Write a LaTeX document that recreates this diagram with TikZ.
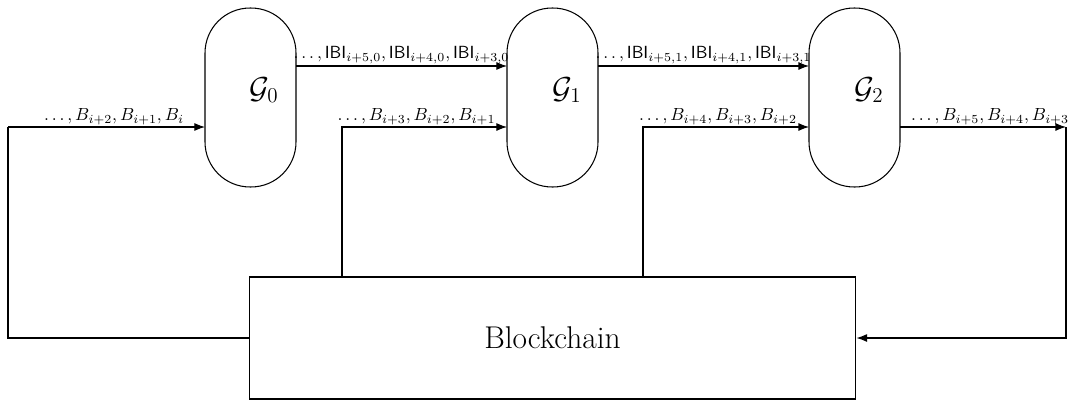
\documentclass[tikz,border=0pt]{standalone}
\usetikzlibrary{arrows.meta}
\begin{document}
\begin{tikzpicture}[x=0.02cm,y=-0.02cm,line width=0.6pt,
  gbox/.style={draw,rounded corners=0.9cm,minimum width=1.82cm,minimum height=3.58cm,inner sep=0pt},
  chain/.style={draw,minimum width=12.14cm,minimum height=2.44cm,inner sep=0pt,font=\fontsize{17.9}{21}\selectfont},
  glbl/.style={font=\LARGE,inner sep=0pt},
  arr/.style={-{Latex[length=6pt,width=4.5pt]}},
  lbl/.style={inner sep=1pt,anchor=south}]
\useasboundingbox (0,0) rectangle (1070,402);
\node[gbox] (g0) at (250.5,97.5) {};
\node[gbox] (g1) at (552.5,97.5) {};
\node[gbox] (g2) at (854.5,97.5) {};
\node[glbl] (l0) at (264,90) {$\mathcal{G}_0$};
\node[glbl] (l1) at (567,90) {$\mathcal{G}_1$};
\node[glbl] (l2) at (869,90) {$\mathcal{G}_2$};
\node[chain] (bc) at (552.5,338) {Blockchain};
% top connectors
\coordinate (t0) at (296,66);
\coordinate (t1) at (507,66);
\coordinate (t2) at (598,66);
\coordinate (t3) at (809,66);
\draw[arr] (t0) -- (t1);
\draw[arr] (t2) -- (t3);
\node[lbl] (il0) at (401.5,66) {$\dots,\mathsf{IBI}_{i+5,0},\mathsf{IBI}_{i+4,0},\mathsf{IBI}_{i+3,0}$};
\node[lbl] (il1) at (703.5,66) {$\dots,\mathsf{IBI}_{i+5,1},\mathsf{IBI}_{i+4,1},\mathsf{IBI}_{i+3,1}$};
% input connectors
\coordinate (a0) at (8,127);
\coordinate (a0b) at (8,338);
\coordinate (g0in) at (205,127);
\draw (bc.west) -- (a0b) -- (a0);
\draw[arr] (a0) -- (g0in);
\node[lbl] (bl0) at (114,127) {$\dots,B_{i+2},B_{i+1},B_i$};
\coordinate (b1) at (342,277);
\coordinate (b1t) at (342,127);
\coordinate (g1in) at (507,127);
\draw[arr] (b1) -- (b1t) -- (g1in);
\node[lbl] (bl1) at (416.5,127) {$\dots,B_{i+3},B_{i+2},B_{i+1}$};
\coordinate (b2) at (643,277);
\coordinate (b2t) at (643,127);
\coordinate (g2in) at (809,127);
\draw[arr] (b2) -- (b2t) -- (g2in);
\node[lbl] (bl2) at (718,127) {$\dots,B_{i+4},B_{i+3},B_{i+2}$};
% output
\coordinate (g2out) at (900,127);
\coordinate (o1) at (1066,127);
\coordinate (o2) at (1066,338);
\draw[arr] (g2out) -- (o1);
\node[lbl] (bl3) at (990,127) {$\dots,B_{i+5},B_{i+4},B_{i+3}$};
\draw[arr] (o1) -- (o2) -- (bc.east);
\end{tikzpicture}
\end{document}
